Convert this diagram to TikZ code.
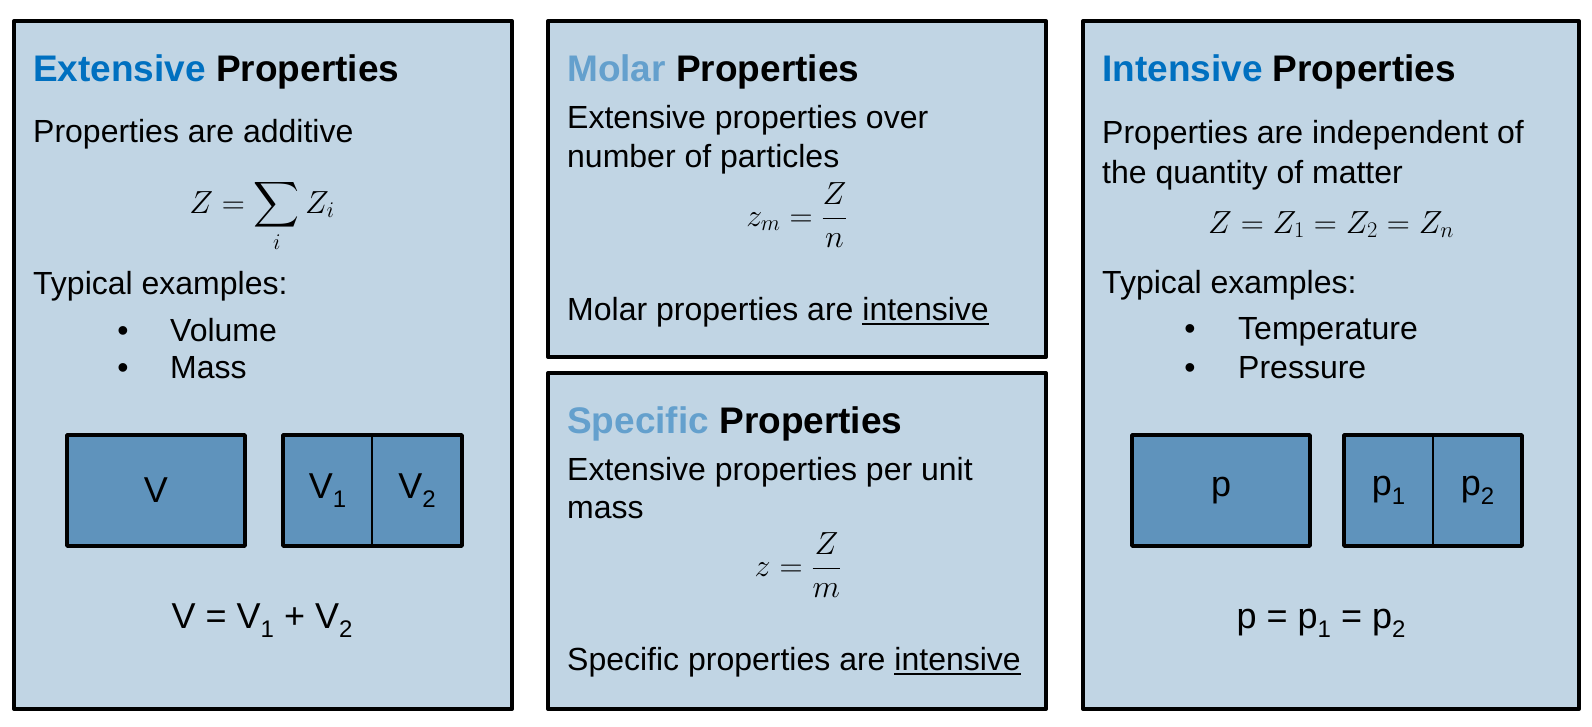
\RequirePackage{fix-cm}
\documentclass[tikz,border=0pt]{standalone}
\usepackage{fontspec}
\setmainfont{Liberation Sans}
\usepackage{amsmath}
\usepackage{graphicx}
\definecolor{dblue}{HTML}{0070C0}
\definecolor{lblue}{HTML}{64A0CD}
\definecolor{panelfill}{HTML}{C1D5E4}
\definecolor{cellfill}{HTML}{5F93BC}
\newcommand\lsub[1]{\raisebox{-0.25em}{\fontsize{24}{24}\selectfont #1}}
\newcommand\undl[1]{\setbox0\hbox{#1}\rlap{\rule[-4.5pt]{\wd0}{2pt}}\box0}
\newcommand\bigsum{\mathop{\vcenter{\hbox{\scalebox{1.28}{$\displaystyle\sum$}}}}\limits}
\tikzset{
  panel/.style={draw=black, line width=4pt, fill=panelfill, line join=round, anchor=north west, inner sep=0pt, outer sep=0pt},
  ttl/.style={anchor=base west, inner sep=0pt, font=\fontsize{37}{44}\selectfont\bfseries},
  txt/.style={anchor=base west, inner sep=0pt, font=\fontsize{32}{39}\selectfont},
  blt/.style={anchor=base, inner sep=0pt, font=\fontsize{32}{39}\selectfont},
  eqn/.style={anchor=base, inner sep=0pt, font=\fontsize{32}{39}\selectfont},
  big/.style={anchor=base, inner sep=0pt, font=\fontsize{36}{42}\selectfont},
  cell/.style={fill=cellfill, anchor=north west, inner sep=0pt, outer sep=0pt, minimum height=111pt, font=\fontsize{36}{42}\selectfont},
  cellbox/.style={draw=black, line width=3.5pt, line join=round},
  divider/.style={draw=black, line width=2.2pt}
}
\begin{document}
\begin{tikzpicture}[x=1pt,y=-1pt]
\useasboundingbox (0,0) rectangle (1592,726);
\fill[white] (0,0) rectangle (1592,726);

% panels
\node[panel, minimum width=498pt, minimum height=688pt] (pext) at (14,21) {};
\node[panel, minimum width=498pt, minimum height=336pt] (pmol) at (548,21) {};
\node[panel, minimum width=498pt, minimum height=336pt] (pspe) at (548,373) {};
\node[panel, minimum width=496pt, minimum height=688pt] (pint) at (1083,21) {};

% Extensive
\node[ttl] (ext-t) at (33,81) {\textcolor{dblue}{Extensive} Properties};
\node[txt] (ext-1) at (33,142) {Properties are additive};
\node[eqn] (ext-eq) at (262,213) {$\displaystyle Z=\bigsum_i Z_i$};
\node[txt] (ext-2) at (33,294) {Typical examples:};
\node[blt] (ext-b1) at (123,341) {•};
\node[txt] (ext-i1) at (170,341) {Volume};
\node[blt] (ext-b2) at (123,378) {•};
\node[txt] (ext-i2) at (170,378) {Mass};
\node[cell, minimum width=178pt] (cV) at (67,435) {V};
\node[cell, minimum width=89pt] (cV1) at (283,435) {V\lsub{1}};
\node[cell, minimum width=90pt] (cV2) at (372,435) {V\lsub{2}};
\draw[cellbox] (cV.north west) rectangle (cV.south east);
\draw[cellbox] (cV1.north west) rectangle (cV2.south east);
\draw[divider] (cV1.north east) -- (cV1.south east);
\node[big] (ext-eq2) at (262,628) {V = V\lsub{1} + V\lsub{2}};

% Molar
\node[ttl] (mol-t) at (567,81) {\textcolor{lblue}{Molar} Properties};
\node[txt] (mol-1) at (567,128) {Extensive properties over};
\node[txt] (mol-2) at (567,167) {number of particles};
\node[eqn] (mol-eq) at (797,226) {$\displaystyle z_m=\frac{Z}{n}$};
\node[txt] (mol-3) at (567,320) {Molar properties are \undl{intensive}};

% Specific
\node[ttl] (spe-t) at (567,433) {\textcolor{lblue}{Specific} Properties};
\node[txt] (spe-1) at (567,480) {Extensive properties per unit};
\node[txt] (spe-2) at (567,518) {mass};
\node[eqn] (spe-eq) at (798,576) {$\displaystyle z=\frac{Z}{m}$};
\node[txt] (spe-3) at (567,670) {Specific properties are \undl{intensive}};

% Intensive
\node[ttl] (int-t) at (1102,81) {\textcolor{dblue}{Intensive} Properties};
\node[txt] (int-1) at (1102,143) {Properties are independent of};
\node[txt] (int-2) at (1102,183) {the quantity of matter};
\node[eqn] (int-eq) at (1331,233) {$Z=Z_1=Z_2=Z_n$};
\node[txt] (int-3) at (1102,293) {Typical examples:};
\node[blt] (int-b1) at (1190,339) {•};
\node[txt] (int-i1) at (1238,339) {Temperature};
\node[blt] (int-b2) at (1190,378) {•};
\node[txt] (int-i2) at (1238,378) {Pressure};
\node[cell, minimum width=178pt] (cp) at (1132,435) {p};
\node[cell, minimum width=89pt] (cp1) at (1344,435) {p\lsub{1}};
\node[cell, minimum width=89pt] (cp2) at (1433,435) {p\lsub{2}};
\draw[cellbox] (cp.north west) rectangle (cp.south east);
\draw[cellbox] (cp1.north west) rectangle (cp2.south east);
\draw[divider] (cp1.north east) -- (cp1.south east);
\node[big] (int-eq2) at (1321,628) {p = p\lsub{1} = p\lsub{2}};
\end{tikzpicture}
\end{document}
